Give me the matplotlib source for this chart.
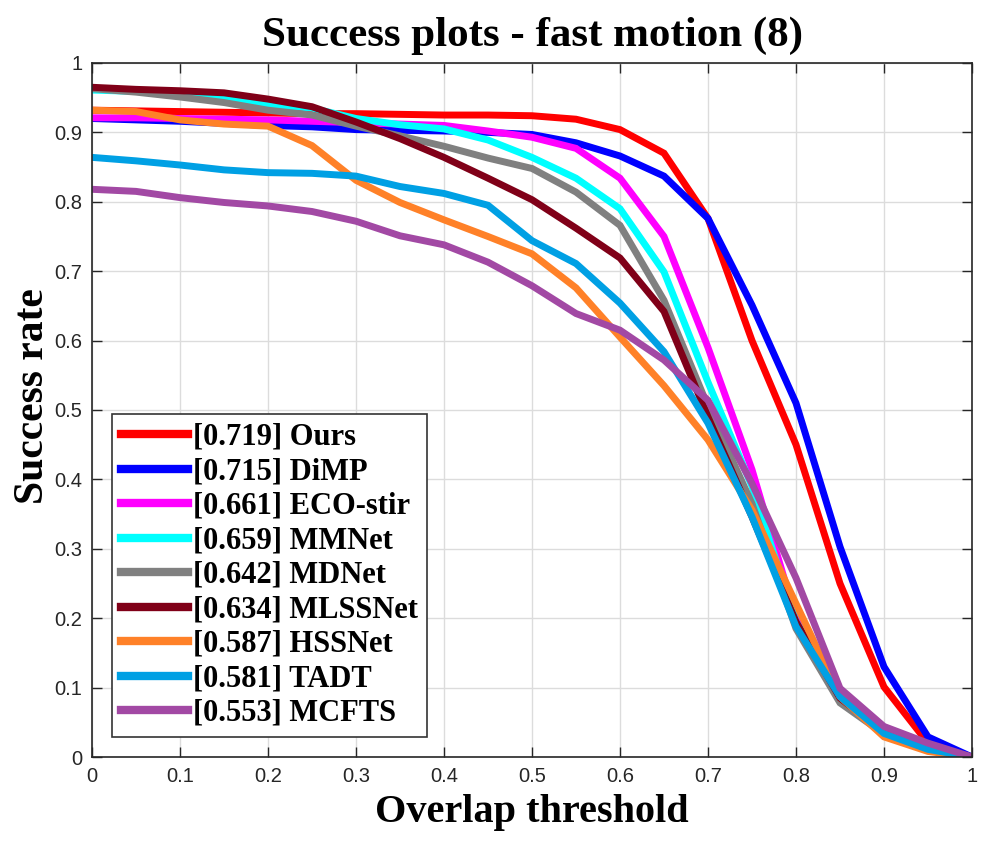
import numpy as np
import matplotlib
matplotlib.use("Agg")
import matplotlib.pyplot as plt

# overlap thresholds 0:0.05:1
thresholds = np.linspace(0, 1, 21)

ours = [0.932, 0.931, 0.930, 0.929, 0.928, 0.927, 0.927, 0.926, 0.925, 0.925, 0.924,
        0.919, 0.904, 0.870, 0.776, 0.600, 0.450, 0.250, 0.101, 0.020, 0.0]
dimp = [0.920, 0.918, 0.916, 0.913, 0.910, 0.908, 0.904, 0.903, 0.902, 0.900, 0.897,
        0.885, 0.866, 0.837, 0.776, 0.651, 0.510, 0.303, 0.130, 0.029, 0.0]
eco_stir = [0.921, 0.921, 0.920, 0.919, 0.918, 0.916, 0.914, 0.912, 0.910, 0.902, 0.893,
            0.877, 0.834, 0.750, 0.590, 0.414, 0.200, 0.085, 0.035, 0.012, 0.0]
mmnet = [0.961, 0.959, 0.955, 0.949, 0.940, 0.935, 0.920, 0.911, 0.905, 0.889, 0.864,
         0.834, 0.790, 0.699, 0.540, 0.390, 0.195, 0.090, 0.035, 0.012, 0.0]
mdnet = [0.963, 0.958, 0.951, 0.943, 0.932, 0.925, 0.909, 0.895, 0.880, 0.863, 0.848,
         0.814, 0.766, 0.658, 0.505, 0.365, 0.185, 0.078, 0.033, 0.011, 0.0]
mlssnet = [0.965, 0.962, 0.960, 0.957, 0.948, 0.937, 0.915, 0.891, 0.864, 0.834, 0.803,
           0.762, 0.719, 0.642, 0.490, 0.346, 0.195, 0.085, 0.035, 0.012, 0.0]
hssnet = [0.932, 0.930, 0.918, 0.912, 0.909, 0.881, 0.831, 0.799, 0.774, 0.750, 0.725,
          0.676, 0.605, 0.535, 0.457, 0.356, 0.221, 0.087, 0.029, 0.008, 0.0]
tadt = [0.864, 0.859, 0.853, 0.846, 0.842, 0.841, 0.837, 0.822, 0.812, 0.795, 0.744,
        0.711, 0.654, 0.584, 0.481, 0.346, 0.188, 0.087, 0.034, 0.011, 0.0]
mcfts = [0.818, 0.815, 0.806, 0.799, 0.794, 0.786, 0.772, 0.751, 0.738, 0.713, 0.679,
         0.639, 0.615, 0.572, 0.514, 0.394, 0.258, 0.099, 0.044, 0.020, 0.0]

names = ['Ours', 'DiMP', 'ECO-stir', 'MMNet', 'MDNet', 'MLSSNet', 'HSSNet', 'TADT', 'MCFTS']
scores = [0.719, 0.715, 0.661, 0.659, 0.642, 0.634, 0.587, 0.581, 0.553]
curves = [ours, dimp, eco_stir, mmnet, mdnet, mlssnet, hssnet, tadt, mcfts]
colors = ['#ff0000', '#0000ff', '#ff00ff', '#00ffff', '#808080',
          '#800018', '#ff8128', '#00a0e4', '#a249a4']

tick_vals = np.linspace(0, 1, 11)
tick_labels = ['0', '0.1', '0.2', '0.3', '0.4', '0.5', '0.6', '0.7', '0.8', '0.9', '1']

serif = ['Liberation Serif', 'DejaVu Serif']
tickfont = ['Liberation Sans', 'DejaVu Sans']

fig = plt.figure(figsize=(10, 8.5), dpi=100)
ax = fig.add_axes([0.092, 0.1094, 0.880, 0.8165])

for name, sc, y, c in zip(names, scores, curves, colors):
    ax.plot(thresholds, y, color=c, linewidth=5, label='[%.3f] %s' % (sc, name),
            solid_joinstyle='miter')

ax.set_xlim(0, 1)
ax.set_ylim(0, 1)
ax.set_xticks(tick_vals)
ax.set_yticks(tick_vals)
ax.set_xticklabels(tick_labels, family=tickfont, fontsize=14.5, color='#262626')
ax.set_yticklabels(tick_labels, family=tickfont, fontsize=14.5, color='#262626')
ax.tick_params(direction='in', length=7, width=1, top=True, right=True,
               color='#262626', pad=7)
for sp in ax.spines.values():
    sp.set_color('#262626')
    sp.set_linewidth(1.2)
ax.grid(True, color='#dcdcdc', linewidth=1)
ax.set_axisbelow(True)

ax.set_title('Success plots - fast motion (8)', family=serif, fontweight='bold',
             fontsize=31, pad=12)
ax.set_xlabel('Overlap threshold', family=serif, fontweight='bold', fontsize=29)
ax.set_ylabel('Success rate', family=serif, fontweight='bold', fontsize=30)
ax.xaxis.set_label_coords(0.5, -0.053)
ax.yaxis.set_label_coords(-0.045, 0.52)

leg = ax.legend(loc='lower left', bbox_to_anchor=(0.0227, 0.0288), borderaxespad=0,
                prop={'family': serif, 'weight': 'bold', 'size': 22},
                fancybox=False, edgecolor='#333333', framealpha=1,
                handlelength=2.2, handletextpad=0.15, labelspacing=0.18,
                borderpad=0.3)
leg.get_frame().set_linewidth(1.2)
for line in leg.get_lines():
    line.set_linewidth(6)

fig.savefig('out.png', dpi=100)
